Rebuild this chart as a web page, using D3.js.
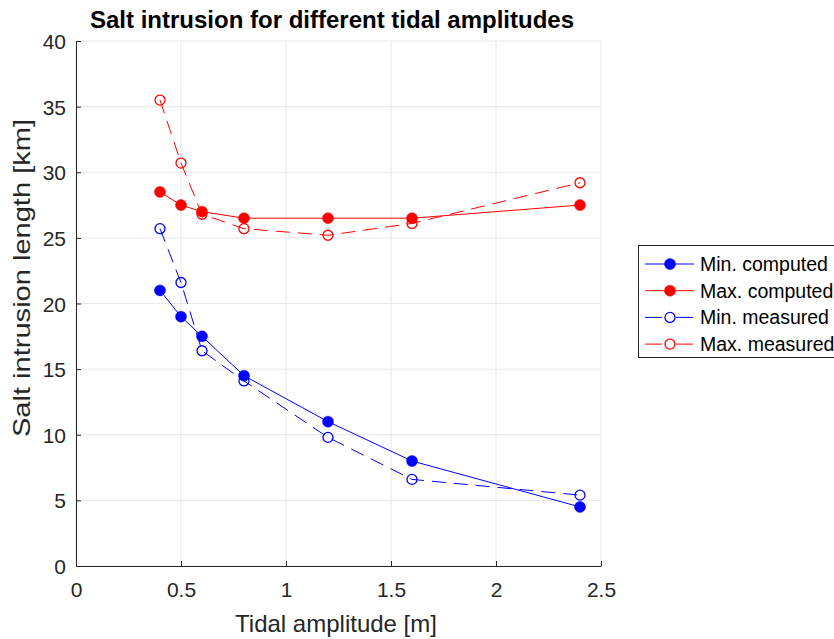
<!DOCTYPE html>
<html><head><meta charset="utf-8">
<script src="https://cdn.jsdelivr.net/npm/d3@7"></script>
<style>body{margin:0;background:#fff;} svg{display:block;font-family:"Liberation Sans",Arial,sans-serif;}</style>
</head><body>
<script>
const amplitudes = [0.4, 0.5, 0.6, 0.8, 1.2, 1.6, 2.4];
const minComputed = [21.0, 19.0, 17.5, 14.5, 11.0, 8.0, 4.5];
const maxComputed = [28.5, 27.5, 27.0, 26.5, 26.5, 26.5, 27.5];
const minMeasured = [25.7, 21.6, 16.4, 14.1, 9.8, 6.6, 5.4];
const maxMeasured = [35.5, 30.7, 26.8, 25.7, 25.2, 26.1, 29.2];
const xTicks = [0, 0.5, 1, 1.5, 2, 2.5];
const yTicks = [0, 5, 10, 15, 20, 25, 30, 35, 40];
const seriesNames = ["Min. computed", "Max. computed", "Min. measured", "Max. measured"];
const seriesColors = ["#0000ff", "#ff0000", "#0000ff", "#ff0000"];

const W = 834, H = 639;
const m = {left: 76, right: 233, top: 41, bottom: 73};
const FONT = '"Liberation Sans",Arial,sans-serif';
const svg = d3.select("body").append("svg").attr("width", W).attr("height", H);
const x = d3.scaleLinear().domain([0, 2.5]).range([m.left, W - m.right]);
const y = d3.scaleLinear().domain([0, 40]).range([H - m.bottom, m.top]);

// grid
const g = svg.append("g");
g.selectAll(".gx").data(xTicks).join("line")
  .attr("x1", d => x(d)).attr("x2", d => x(d)).attr("y1", y(0)).attr("y2", y(40))
  .attr("stroke", "#e8e8e8").attr("stroke-width", 1);
g.selectAll(".gy").data(yTicks).join("line")
  .attr("y1", d => y(d)).attr("y2", d => y(d)).attr("x1", x(0)).attr("x2", x(2.5))
  .attr("stroke", "#e8e8e8").attr("stroke-width", 1);

// axes
const xAxis = svg.append("g").attr("transform", `translate(0,${y(0)})`)
  .call(d3.axisBottom(x).tickValues(xTicks).tickFormat(d3.format("")).tickSizeInner(-5).tickSizeOuter(0).tickPadding(16));
const yAxis = svg.append("g").attr("transform", `translate(${x(0)},0)`)
  .call(d3.axisLeft(y).tickValues(yTicks).tickSizeInner(-5).tickSizeOuter(0).tickPadding(10));
[xAxis, yAxis].forEach(a => {
  a.attr("font-size", null).attr("font-family", null);
  a.select(".domain").attr("stroke", "#262626").attr("stroke-width", 1);
  a.selectAll(".tick line").attr("stroke", "#262626");
  a.selectAll("text").attr("fill", "#262626").style("font-size", "21px").style("font-family", FONT);
});
yAxis.selectAll("text").attr("dy", "0.36em");

// labels
svg.append("text").attr("x", 336).attr("y", 632).attr("text-anchor", "middle")
  .attr("fill", "#262626").style("font-size", "24px").text("Tidal amplitude [m]");
svg.append("text").attr("transform", `translate(30,278) rotate(-90)`).attr("text-anchor", "middle")
  .attr("fill", "#262626").style("font-size", "24px")
  .attr("textLength", 318).attr("lengthAdjust", "spacingAndGlyphs")
  .text("Salt intrusion length [km]");
svg.append("text").attr("x", 332).attr("y", 28).attr("text-anchor", "middle")
  .attr("fill", "#000").style("font-size", "24px").style("font-weight", "bold").text("Salt intrusion for different tidal amplitudes");

const series = [minComputed, maxComputed, minMeasured, maxMeasured];
const line = d3.line().x((d, i) => x(amplitudes[i])).y(d => y(d));
const DASH = "14,8";
series.forEach((s, k) => {
  const dashed = k >= 2;
  svg.append("path").datum(s).attr("d", line).attr("fill", "none")
    .attr("stroke", seriesColors[k]).attr("stroke-width", 1)
    .attr("stroke-dasharray", dashed ? DASH : null);
  svg.append("g").selectAll("circle").data(s).join("circle")
    .attr("cx", (d, i) => x(amplitudes[i])).attr("cy", d => y(d)).attr("r", dashed ? 5 : 5.5)
    .attr("fill", dashed ? "none" : seriesColors[k])
    .attr("stroke", seriesColors[k]).attr("stroke-width", dashed ? 1.3 : 0.5);
});

// legend
const lg = svg.append("g").attr("transform", "translate(638,245)");
lg.append("rect").attr("x", 0.5).attr("y", 0.5).attr("width", 220).attr("height", 112)
  .attr("fill", "#fff").attr("stroke", "#262626").attr("stroke-width", 1);
seriesNames.forEach((n, k) => {
  const yy = 19 + k * 26.7;
  const filled = k < 2;
  lg.append("line").attr("x1", 7).attr("x2", 56).attr("y1", yy).attr("y2", yy)
    .attr("stroke", seriesColors[k]).attr("stroke-width", 1)
    .attr("stroke-dasharray", filled ? null : "17,14");
  lg.append("circle").attr("cx", 32).attr("cy", yy).attr("r", filled ? 5.5 : 5)
    .attr("fill", filled ? seriesColors[k] : "#fff").attr("stroke", seriesColors[k]).attr("stroke-width", filled ? 0.5 : 1.3);
  lg.append("text").attr("x", 62).attr("y", yy + 7).attr("fill", "#000").style("font-size", "19.5px").style("font-family", FONT).text(n);
});
</script>
</body></html>
